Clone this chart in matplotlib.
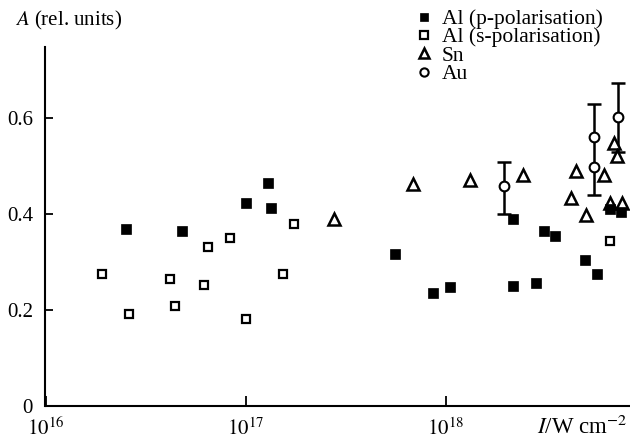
import matplotlib
matplotlib.use("Agg")
import matplotlib.pyplot as plt
from matplotlib.ticker import FixedLocator, NullLocator

plt.rcParams['font.family'] = ['Liberation Serif', 'DejaVu Serif']
plt.rcParams['mathtext.fontset'] = 'stix'

# ---- data ----
al_p_I = [2.52e16, 4.84e16, 1.00e17, 1.30e17, 1.34e17, 5.56e17, 8.68e17, 1.05e18,
          2.18e18, 2.17e18, 2.82e18, 3.10e18, 3.51e18, 5.01e18, 5.69e18, 6.68e18, 7.50e18]
al_p_A = [0.369, 0.365, 0.424, 0.464, 0.413, 0.317, 0.236, 0.247,
          0.390, 0.250, 0.257, 0.365, 0.355, 0.304, 0.274, 0.410, 0.404]

al_s_I = [1.91e16, 2.61e16, 4.18e16, 4.42e16, 6.17e16, 6.53e16, 8.32e16, 1.00e17,
          1.54e17, 1.74e17, 6.61e18]
al_s_A = [0.274, 0.192, 0.264, 0.208, 0.253, 0.331, 0.351, 0.181,
          0.274, 0.379, 0.344]

sn_I = [2.76e17, 6.90e17, 1.32e18, 2.44e18, 4.22e18, 4.47e18, 5.05e18, 6.19e18,
        6.94e18, 7.22e18, 6.68e18, 7.59e18]
sn_A = [0.390, 0.462, 0.471, 0.481, 0.433, 0.490, 0.397, 0.481,
        0.547, 0.521, 0.423, 0.423]

au_I = [1.96e18, 5.51e18, 5.51e18, 7.30e18]
au_A = [0.458, 0.561, 0.499, 0.603]

au_bar_I = [1.96e18, 5.51e18, 7.30e18]
au_bar_lo = [0.401, 0.440, 0.530]
au_bar_hi = [0.508, 0.629, 0.674]

labels = ['Al (p-polarisation)', 'Al (s-polarisation)', 'Sn', 'Au']
x_ticks = [1e16, 1e17, 1e18]
x_tick_labels = [r'$10^{16}$', r'$10^{17}$', r'$10^{18}$']
y_ticks = [0, 0.2, 0.4, 0.6]
y_tick_labels = ['0', '0.2', '0.4', '0.6']

# ---- figure ----
fig = plt.figure(figsize=(6.3, 4.41), dpi=100)
ax = fig.add_axes([45.5 / 630, 35 / 441, (630 - 45.5) / 630, 359 / 441])
ax.set_xscale('log')
ax.set_xlim(1e16, 10 ** (16 + (630 - 45.5) / 200.0))
ax.set_ylim(0, 0.748)

for s in ['top', 'right']:
    ax.spines[s].set_visible(False)
for s in ['left', 'bottom']:
    ax.spines[s].set_linewidth(1.5)

# error bars
mid = [(lo + hi) / 2 for lo, hi in zip(au_bar_lo, au_bar_hi)]
half = [(hi - lo) / 2 for lo, hi in zip(au_bar_lo, au_bar_hi)]
ax.errorbar(au_bar_I, mid, yerr=half, fmt='none', ecolor='black',
            elinewidth=1.8, capsize=4.7, capthick=1.8, zorder=2)

h_sn, = ax.plot(sn_I, sn_A, linestyle='none', marker='^', ms=8, mfc='white',
                mec='black', mew=1.8, zorder=3)
h_as, = ax.plot(al_s_I, al_s_A, linestyle='none', marker='s', ms=6.3, mfc='white',
                mec='black', mew=1.6, zorder=4)
h_ap, = ax.plot(al_p_I, al_p_A, linestyle='none', marker='s', ms=7.2, mfc='black',
                mec='black', mew=0.5, zorder=5)
h_au, = ax.plot(au_I, au_A, linestyle='none', marker='o', ms=7, mfc='white',
                mec='black', mew=1.5, zorder=6)

ax.xaxis.set_major_locator(FixedLocator(x_ticks))
ax.xaxis.set_minor_locator(NullLocator())
ax.set_xticklabels(x_tick_labels)
ax.set_yticks(y_ticks)
ax.set_yticklabels(y_tick_labels)
ax.tick_params(axis='both', which='major', direction='in', labelsize=15,
               width=1.3, color='black')
ax.tick_params(axis='x', length=7, pad=8.5)
ax.tick_params(axis='y', length=6, pad=9)

fig.text(15 / 630, 1 - 20 / 441, r'$A$ (rel. units)', fontsize=15,
         ha='left', va='center')
fig.text(627 / 630, 1 - 427 / 441, r'$I$/W cm$^{-2}$', fontsize=16.5,
         ha='right', va='center')

leg = ax.legend([h_ap, h_as, h_sn, h_au], labels, loc='upper left',
                bbox_to_anchor=(415 / 630, 1 - 9 / 441),
                bbox_transform=fig.transFigure, frameon=False, fontsize=15.5,
                handlelength=0.8, handletextpad=0.45, labelspacing=-0.08,
                borderpad=0, borderaxespad=0, numpoints=1, markerscale=0.85)

fig.savefig('out.png', dpi=100)
